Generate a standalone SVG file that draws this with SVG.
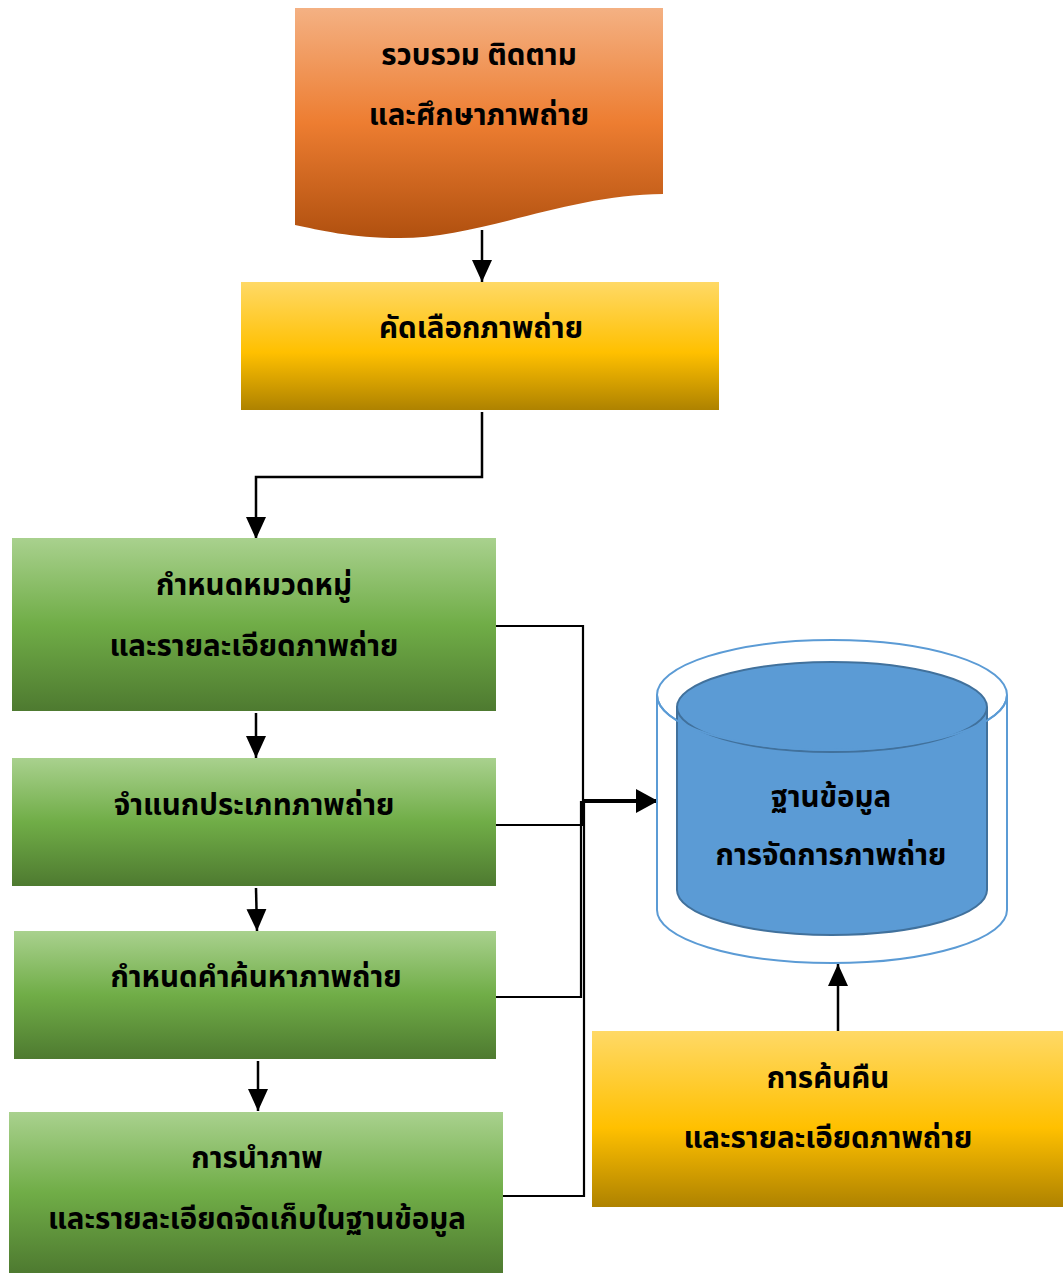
<svg xmlns="http://www.w3.org/2000/svg" width="1063" height="1274" viewBox="0 0 1063 1274">
  <defs>
    <linearGradient id="gOrange" x1="0" y1="0" x2="0" y2="1">
      <stop offset="0" stop-color="#F4B183"/>
      <stop offset="0.5" stop-color="#ED7D31"/>
      <stop offset="1" stop-color="#B0500F"/>
    </linearGradient>
    <linearGradient id="gYellow" x1="0" y1="0" x2="0" y2="1">
      <stop offset="0" stop-color="#FFD966"/>
      <stop offset="0.55" stop-color="#FFC000"/>
      <stop offset="1" stop-color="#AE8200"/>
    </linearGradient>
    <linearGradient id="gGreen" x1="0" y1="0" x2="0" y2="1">
      <stop offset="0" stop-color="#A9D18E"/>
      <stop offset="0.5" stop-color="#70AD47"/>
      <stop offset="1" stop-color="#4E7A30"/>
    </linearGradient>
    <marker id="arrow" markerUnits="userSpaceOnUse" markerWidth="22" markerHeight="20" refX="22" refY="10" orient="auto">
      <path d="M0,0 L22,10 L0,20 Z" fill="#000"/>
    </marker>
    <marker id="arrowBig" markerUnits="userSpaceOnUse" markerWidth="22" markerHeight="24" refX="22" refY="12" orient="auto">
      <path d="M0,0 L22,12 L0,24 Z" fill="#000"/>
    </marker>
  </defs>
  <style>
    .lbl { font-family: "Noto Sans Thai", "Noto Sans", "DejaVu Sans", sans-serif; font-weight: bold; font-size: 29.5px; fill: #000; text-anchor: middle; }
    .conn { fill: none; stroke: #000; stroke-width: 2.5; }
    .link { fill: none; stroke: #000; stroke-width: 2.2; }
  </style>

  <!-- connectors -->
  <g id="connectors">
    <path class="conn" d="M482,230 V282" marker-end="url(#arrow)"/>
    <path class="conn" d="M482,412 V477 H256 V539" marker-end="url(#arrow)"/>
    <path class="conn" d="M256,713 V758" marker-end="url(#arrow)"/>
    <path class="conn" d="M256,888 L257,931" marker-end="url(#arrow)"/>
    <path class="conn" d="M258,1061 V1111" marker-end="url(#arrow)"/>
    <path class="link" d="M496,626 H583 V801"/>
    <path class="link" d="M496,825 H583 V801"/>
    <path class="link" d="M496,997 H581 V801"/>
    <path class="link" d="M503,1196 H584 V801"/>
    <path fill="none" stroke="#000" stroke-width="4" d="M582,801 H658" marker-end="url(#arrowBig)"/>
    <path class="conn" d="M838,1032 V964" marker-end="url(#arrow)"/>
  </g>

  <!-- collect / follow / study photos -->
  <g id="node-collect">
    <path d="M295,8 H663 V194 C570,194 480,238 400,238 C350,238 320,230 295,225 Z" fill="url(#gOrange)"/>
    <text class="lbl" x="479" y="65">รวบรวม ติดตาม</text>
    <text class="lbl" x="479" y="125">และศึกษาภาพถ่าย</text>
  </g>

  <g id="node-select">
    <rect x="241" y="282" width="478" height="128" fill="url(#gYellow)"/>
    <text class="lbl" x="481" y="338">คัดเลือกภาพถ่าย</text>
  </g>

  <g id="node-category">
    <rect x="12" y="538" width="484" height="173" fill="url(#gGreen)"/>
    <text class="lbl" x="254" y="595">กำหนดหมวดหมู่</text>
    <text class="lbl" x="254" y="656">และรายละเอียดภาพถ่าย</text>
  </g>

  <g id="node-classify">
    <rect x="12" y="758" width="484" height="128" fill="url(#gGreen)"/>
    <text class="lbl" x="254" y="815">จำแนกประเภทภาพถ่าย</text>
  </g>

  <g id="node-keywords">
    <rect x="14" y="931" width="482" height="128" fill="url(#gGreen)"/>
    <text class="lbl" x="256" y="987">กำหนดคำค้นหาภาพถ่าย</text>
  </g>

  <g id="node-store">
    <rect x="9" y="1112" width="494" height="161" fill="url(#gGreen)"/>
    <text class="lbl" x="257" y="1168">การนำภาพ</text>
    <text class="lbl" x="257" y="1229">และรายละเอียดจัดเก็บในฐานข้อมูล</text>
  </g>

  <!-- photo management database -->
  <g id="node-database">
    <path d="M657,695 V910 A175,53 0 0 0 1007,910 V695" fill="#fff" stroke="#5B9BD5" stroke-width="2"/>
    <ellipse cx="832" cy="695" rx="175" ry="55" fill="#fff" stroke="#5B9BD5" stroke-width="2"/>
    <path d="M677,707 V890 A155,45 0 0 0 987,890 V707" fill="#5B9BD5" stroke="#41719C" stroke-width="2"/>
    <ellipse cx="832" cy="707" rx="155" ry="45" fill="#5B9BD5" stroke="#41719C" stroke-width="2"/>
    <path d="M657,695 A175,55 0 0 0 1007,695" fill="none" stroke="#5B9BD5" stroke-width="2"/>
    <text class="lbl" x="831" y="807">ฐานข้อมูล</text>
    <text class="lbl" x="831" y="865">การจัดการภาพถ่าย</text>
  </g>

  <g id="node-retrieve">
    <rect x="592" y="1031" width="471" height="176" fill="url(#gYellow)"/>
    <text class="lbl" x="828" y="1088">การค้นคืน</text>
    <text class="lbl" x="828" y="1148">และรายละเอียดภาพถ่าย</text>
  </g>
</svg>
